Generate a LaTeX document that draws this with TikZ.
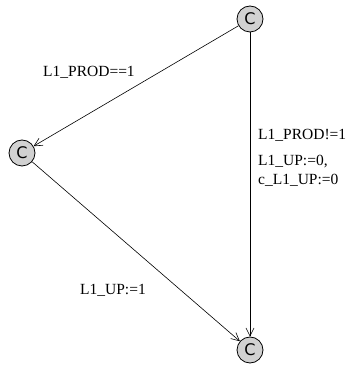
\documentclass[tikz,border=0pt]{standalone}
\usepackage{fontspec}
\setmainfont{Liberation Serif}
\newfontfamily\csans{DejaVu Sans}
\usetikzlibrary{arrows.meta}
\tikzset{
  loc/.style={circle, draw, fill=black!18, minimum size=26pt, inner sep=0pt, line width=0.8pt, font=\csans\fontsize{16}{16}\selectfont},
  edge/.style={draw, line width=0.6pt, -{Straight Barb[length=8pt,width=8pt]}},
  lbl/.style={font=\fontsize{15.5}{19}\selectfont, inner sep=0pt}
}
\begin{document}
\begin{tikzpicture}[x=1pt,y=1pt]
\useasboundingbox (0,0) rectangle (354,367);
\node[loc] (top) at (250,348) {C};
\node[loc] (left) at (22,214) {C};
\node[loc] (bot) at (250,17) {C};
\draw[edge] (top) -- (left);
\draw[edge] (top) -- (bot);
\draw[edge] (left) -- (bot);
\node[lbl, anchor=west] (l1) at (43,295) {L1\_PROD==1};
\node[lbl, anchor=west] (l2) at (258,232) {L1\_PROD!=1};
\node[lbl, anchor=west, align=left] (l3) at (258,196) {L1\_UP:=0,\\c\_L1\_UP:=0};
\node[lbl, anchor=west] (l4) at (80,77) {L1\_UP:=1};
\end{tikzpicture}
\end{document}
